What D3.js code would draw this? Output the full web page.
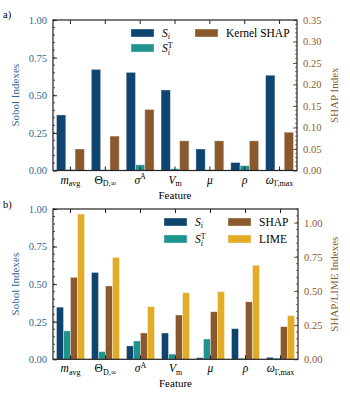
<!DOCTYPE html>
<html>
<head>
<meta charset="utf-8">
<script src="https://cdn.jsdelivr.net/npm/d3@7"></script>
<style>
  body { margin: 0; background: #fff; }
  svg text { font-family: "Liberation Serif", "Times New Roman", serif; }
</style>
</head>
<body>
<div id="chart"></div>
<script>
// ---- data ----
const features = ["mavg", "theta", "sigma", "vm", "mu", "rho", "omega"];

// panel a)
const sobolA  = [0.369, 0.672, 0.652, 0.535, 0.143, 0.053, 0.633];
const sobolTA = [0.007, 0.005, 0.038, 0.012, 0.006, 0.032, 0.004];
const shapA   = [0.050, 0.080, 0.142, 0.069, 0.069, 0.069, 0.089];

// panel b)
const sobolB  = [0.347, 0.578, 0.089, 0.175, 0.011, 0.204, 0.013];
const sobolTB = [0.189, 0.051, 0.122, 0.035, 0.135, 0.007, 0.008];
const shapB   = [0.600, 0.537, 0.193, 0.324, 0.348, 0.421, 0.239];
const limeB   = [1.063, 0.746, 0.385, 0.487, 0.495, 0.688, 0.320];

const leftTicks = [0, 0.25, 0.5, 0.75, 1.0];
const rightTicksA = [0, 0.05, 0.10, 0.15, 0.20, 0.25, 0.30, 0.35];
const rightTicksB = [0, 0.25, 0.5, 0.75, 1.0];

// ---- colours ----
const cSi = "#0f4470", cST = "#1f948e", cShap = "#8a5a2e", cLime = "#e2ac27";
const cLeft = "#2d6a9a", cRight = "#8a5a2e";
const FONT = "Liberation Serif, Times New Roman, serif";

const W = 350, H = 400;
const svg = d3.select("#chart").append("svg")
  .attr("width", W).attr("height", H)
  .attr("font-family", FONT);

// feature tick labels with sub/superscripts
function featureLabel(sel, key) {
  const t = sel.append("text").attr("text-anchor", "middle").attr("font-size", 11.5);
  const it = (s) => t.append("tspan").attr("font-style", "italic").text(s);
  const up = (s) => t.append("tspan").text(s);
  const sub = (s) => t.append("tspan").attr("font-size", 8).attr("dy", 2.5).text(s);
  const sup = (s) => t.append("tspan").attr("font-size", 8).attr("dy", -4.5).text(s);
  if (key === "mavg") { it("m"); sub("avg"); }
  else if (key === "theta") { up("\u0398"); sub("D,\u221e"); }
  else if (key === "sigma") { it("\u03c3"); sup("A"); }
  else if (key === "vm") { it("V"); sub("m"); }
  else if (key === "mu") { it("\u03bc"); }
  else if (key === "rho") { it("\u03c1"); }
  else if (key === "omega") { it("\u03c9"); sub("\u0393,max"); }
}

function drawPanel(opt) {
  const { top, bottom, left, right } = opt;
  const g = svg.append("g");

  const x = d3.scaleBand().domain(features).range([left, right]);
  const x1 = d3.scaleBand().domain(opt.series.map(s => s.name))
    .range([0, x.bandwidth() * 0.8]);
  const yL = d3.scaleLinear().domain([0, 1]).range([bottom, top]);
  const yR = d3.scaleLinear().domain([0, opt.rightMax]).range([bottom, top]);

  // bars
  opt.series.forEach(s => {
    const y = s.axis === "right" ? yR : yL;
    g.append("g").selectAll("rect").data(s.values).join("rect")
      .attr("x", (d, i) => x(features[i]) + x.bandwidth() * 0.1 + x1(s.name))
      .attr("y", d => y(d))
      .attr("width", x1.bandwidth())
      .attr("height", d => bottom - y(d))
      .attr("fill", s.color)
      .attr("stroke", "#ffffff").attr("stroke-opacity", 0.45).attr("stroke-width", 0.8);
  });

  // minor ticks left
  g.append("g").selectAll("line").data(d3.range(0, 1.0001, 0.05)).join("line")
    .attr("x1", left).attr("x2", left + 2)
    .attr("y1", d => yL(d)).attr("y2", d => yL(d))
    .attr("stroke", "#222").attr("stroke-width", 0.8);

  // left axis
  const axL = g.append("g").attr("transform", `translate(${left},0)`)
    .call(d3.axisLeft(yL).tickValues(leftTicks).tickFormat(d3.format(".2f"))
      .tickSizeInner(-4).tickSizeOuter(0).tickPadding(6));
  axL.attr("font-family", FONT);
  axL.select(".domain").remove();
  axL.selectAll(".tick line").attr("stroke", "#222").attr("stroke-width", 1);
  axL.selectAll(".tick text").attr("fill", cLeft).attr("font-size", 10.5);

  // minor ticks right
  g.append("g").selectAll("line").data(opt.rightMinor).join("line")
    .attr("x1", right).attr("x2", right - 2)
    .attr("y1", d => yR(d)).attr("y2", d => yR(d))
    .attr("stroke", cRight).attr("stroke-width", 0.8);

  const axR = g.append("g").attr("transform", `translate(${right},0)`)
    .call(d3.axisRight(yR).tickValues(opt.rightTicks).tickFormat(d3.format(".2f"))
      .tickSizeInner(-4).tickSizeOuter(0).tickPadding(6));
  axR.attr("font-family", FONT);
  axR.select(".domain").remove();
  axR.selectAll(".tick line").attr("stroke", cRight).attr("stroke-width", 1);
  axR.selectAll(".tick text").attr("fill", cRight).attr("font-size", 10.5);

  // top / bottom feature ticks (inward)
  features.forEach(f => {
    const cx = x(f) + x.bandwidth() / 2;
    g.append("line").attr("x1", cx).attr("x2", cx).attr("y1", top).attr("y2", top + 4)
      .attr("stroke", "#222").attr("stroke-width", 1);
    g.append("line").attr("x1", cx).attr("x2", cx).attr("y1", bottom).attr("y2", bottom - 4)
      .attr("stroke", "#222").attr("stroke-width", 1);
    featureLabel(g.append("g").attr("transform", `translate(${cx},${bottom + 13})`), f);
  });

  // frame
  g.append("rect").attr("x", left).attr("y", top)
    .attr("width", right - left).attr("height", bottom - top)
    .attr("fill", "none").attr("stroke", "#222").attr("stroke-width", 1.2);

  // axis titles
  g.append("text").attr("x", (left + right) / 2).attr("y", bottom + 28)
    .attr("text-anchor", "middle").attr("font-size", 11).text("Feature");
  g.append("text").attr("transform", `translate(19,${(top + bottom) / 2}) rotate(-90)`)
    .attr("text-anchor", "middle").attr("font-size", 11).attr("fill", cLeft).text("Sobol Indexes");
  g.append("text").attr("transform", `translate(338,${(top + bottom) / 2}) rotate(-90)`)
    .attr("text-anchor", "middle").attr("font-size", 11).attr("fill", cRight).text(opt.rightLabel);

  // panel tag
  g.append("text").attr("x", 3).attr("y", opt.tagY).attr("font-size", 10.5).text(opt.tag);

  // legend
  opt.legend.forEach(l => {
    g.append("rect").attr("x", l.x).attr("y", l.y - 4).attr("width", 23).attr("height", 8)
      .attr("fill", l.color).attr("stroke", "#fff").attr("stroke-opacity", 0.45).attr("stroke-width", 0.8);
    const tx = l.x + 31, ty = l.y + 4;
    const t = g.append("text").attr("x", tx).attr("y", ty).attr("font-size", 11.5);
    if (l.name === "Si") {
      t.append("tspan").attr("font-style", "italic").text("S");
      t.append("tspan").attr("font-size", 8).attr("font-style", "italic").attr("dy", 2).text("i");
    } else if (l.name === "ST") {
      t.append("tspan").attr("font-style", "italic").text("S");
      t.append("tspan").attr("font-size", 8).attr("dy", -4.5).text("T");
      t.append("tspan").attr("font-size", 8).attr("font-style", "italic")
        .attr("dx", -5).attr("dy", 7).text("i");
    } else {
      t.text(l.name);
    }
  });
}

drawPanel({
  top: 20, bottom: 170.5, left: 53, right: 297,
  rightMax: 0.35, rightTicks: rightTicksA, rightMinor: d3.range(0, 0.3501, 0.01),
  rightLabel: "SHAP Index", tag: "a)", tagY: 18,
  series: [
    { name: "Si", values: sobolA, color: cSi, axis: "left" },
    { name: "ST", values: sobolTA, color: cST, axis: "left" },
    { name: "SHAP", values: shapA, color: cShap, axis: "right" }
  ],
  legend: [
    { name: "Si", color: cSi, x: 131, y: 33 },
    { name: "ST", color: cST, x: 131, y: 48 },
    { name: "Kernel SHAP", color: cShap, x: 195, y: 33 }
  ]
});

drawPanel({
  top: 209, bottom: 359.3, left: 53, right: 298,
  rightMax: 1.1, rightTicks: rightTicksB, rightMinor: d3.range(0, 1.1001, 0.05),
  rightLabel: "SHAP/LIME Indexes", tag: "b)", tagY: 208,
  series: [
    { name: "Si", values: sobolB, color: cSi, axis: "left" },
    { name: "ST", values: sobolTB, color: cST, axis: "left" },
    { name: "SHAP", values: shapB, color: cShap, axis: "right" },
    { name: "LIME", values: limeB, color: cLime, axis: "right" }
  ],
  legend: [
    { name: "Si", color: cSi, x: 164, y: 222 },
    { name: "ST", color: cST, x: 164, y: 239 },
    { name: "SHAP", color: cShap, x: 228, y: 222 },
    { name: "LIME", color: cLime, x: 228, y: 239 }
  ]
});
</script>
</body>
</html>
